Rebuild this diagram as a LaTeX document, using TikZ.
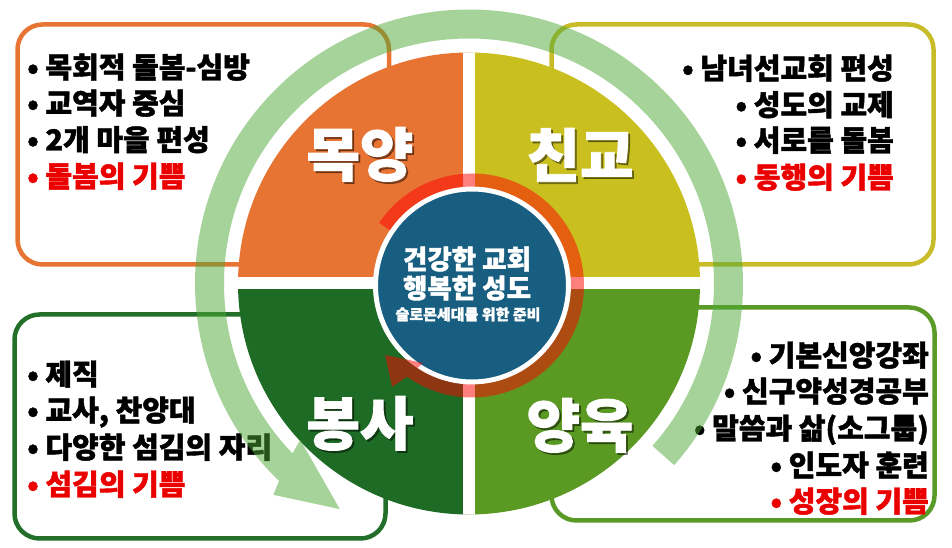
\documentclass[tikz,border=0pt]{standalone}
\usepackage{fontspec}
\setmainfont{Noto Sans CJK KR}[BoldFeatures={FakeBold=1.5}]
\definecolor{qorange}{RGB}{232,116,52}
\definecolor{qyellow}{RGB}{201,192,32}
\definecolor{qdgreen}{RGB}{30,107,37}
\definecolor{qmgreen}{RGB}{91,154,34}
\definecolor{hubnavy}{RGB}{23,94,128}
\definecolor{ringgreen}{RGB}{77,169,53}
\definecolor{bTL}{RGB}{232,116,52}
\definecolor{bTR}{RGB}{200,188,40}
\definecolor{bBL}{RGB}{35,110,40}
\definecolor{bBR}{RGB}{90,155,40}
\definecolor{joyred}{RGB}{235,0,0}
\begin{document}
\begin{tikzpicture}[x=1pt,y=1pt,
  boxline/.style={line width=4.5pt, rounded corners=25pt, fill=white},
  btxt/.style={font=\fontsize{29}{29}\selectfont\bfseries, inner sep=0pt, text=black},
  bl/.style={btxt, anchor=base west},
  br/.style={btxt, anchor=base east},
  qlabel/.style={font=\fontsize{58}{58}\selectfont\bfseries, text=white, inner sep=0pt, anchor=base},
  qshadow/.style={font=\fontsize{58}{58}\selectfont\bfseries, text=black, text opacity=0.4, inner sep=0pt, anchor=base},
  hubtxt/.style={font=\fontsize{26.5}{26.5}\selectfont\bfseries, text=white, inner sep=0pt, anchor=base},
]
\useasboundingbox (0,0) rectangle (952,548);
\fill[white] (0,0) rectangle (952,548);

% boxes
\draw[boxline, draw=bTL] (17.5,283.5) rectangle (389,523.5);
\draw[boxline, draw=bTR] (551.5,283.5) rectangle (933.5,523.5);
\draw[boxline, draw=bBL] (14.5,9.5) rectangle (385.5,233.5);
\draw[boxline, draw=bBR] (551.5,27.5) rectangle (934.5,240.5);

% box texts
\node[bl] (tl1) at (27,470) {• 목회적 돌봄-심방};
\node[bl] (tl2) at (27,434) {• 교역자 중심};
\node[bl] (tl3) at (27,397.5) {• 2개 마을 편성};
\node[bl, text=joyred] (tl4) at (27,361) {• 돌봄의 기쁨};

\node[br] (tr1) at (894,469) {• 남녀선교회 편성};
\node[br] (tr2) at (894,432.5) {• 성도의 교제};
\node[br] (tr3) at (894,397) {• 서로를 돌봄};
\node[br, text=joyred] (tr4) at (894,360) {• 동행의 기쁨};

\node[bl] (bl1) at (27,163) {• 제직};
\node[bl] (bl2) at (27,127) {• 교사, 찬양대};
\node[bl] (bl3) at (27,90) {• 다양한 섬김의 자리};
\node[bl, text=joyred] (bl4) at (27,53) {• 섬김의 기쁨};

\node[br] (br1) at (929,182) {• 기본신앙강좌};
\node[br] (br2) at (929,146) {• 신구약성경공부};
\node[br] (br3) at (929,109) {• 말씀과 삶(소그룹)};
\node[br] (br4) at (929,72) {• 인도자 훈련};
\node[br, text=joyred] (br5) at (929,36) {• 성장의 기쁨};

% disk quadrants
\begin{scope}
  \clip (469,264.5) circle[radius=231];
  \fill[qorange] (469,264.5) rectangle (230,500);
  \fill[qyellow] (469,264.5) rectangle (710,500);
  \fill[qdgreen] (469,264.5) rectangle (230,30);
  \fill[qmgreen] (469,264.5) rectangle (710,30);
  \fill[white] (230,258.5) rectangle (710,270.5);
  \fill[white] (463,30) rectangle (475,500);
\end{scope}

% big ring arrow
\begin{scope}[shift={(469,264.5)}]
  \fill[ringgreen, fill opacity=0.5]
    (-41.5:274) arc[start angle=-41.5, end angle=226.1, radius=274]
    -- (227.2:288) -- (240.2:260) -- (222.8:230) -- (223.9:245)
    arc[start angle=223.9, end angle=-41.5, radius=245] -- cycle;
\end{scope}

% hub
\node[circle, fill=hubnavy, draw=white, line width=5pt, minimum size=193pt, inner sep=0pt] (hub) at (472,262.5) {};

% red arc arrow
\begin{scope}[shift={(472,262.5)}]
  \fill[red, fill opacity=0.5]
    (146:112) arc[start angle=146, end angle=-125.5, radius=112]
    -- (-128.2:129.2) -- (-141.4:111.3) -- (-122.3:91.7) -- (-123.5:99)
    arc[start angle=-123.5, end angle=146, radius=99] -- cycle;
\end{scope}

% quadrant labels
\node[qshadow] (qa-s) at (362,370) {목양};
\node[qlabel] (qa) at (360,372) {목양};
\node[qshadow] (qb-s) at (582,369) {친교};
\node[qlabel] (qb) at (580,371) {친교};
\node[qshadow] (qc-s) at (362,101) {봉사};
\node[qlabel] (qc) at (360,103) {봉사};
\node[qshadow] (qd-s) at (582,99) {양육};
\node[qlabel] (qd) at (580,101) {양육};

% hub texts
\node[hubtxt] (h1) at (467,279) {건강한 교회};
\node[hubtxt] (h2) at (467,250) {행복한 성도};
\node[hubtxt, font=\fontsize{15}{15}\selectfont\bfseries] (h3) at (468,228) {슬로몬세대를 위한 준비};
\end{tikzpicture}
\end{document}
